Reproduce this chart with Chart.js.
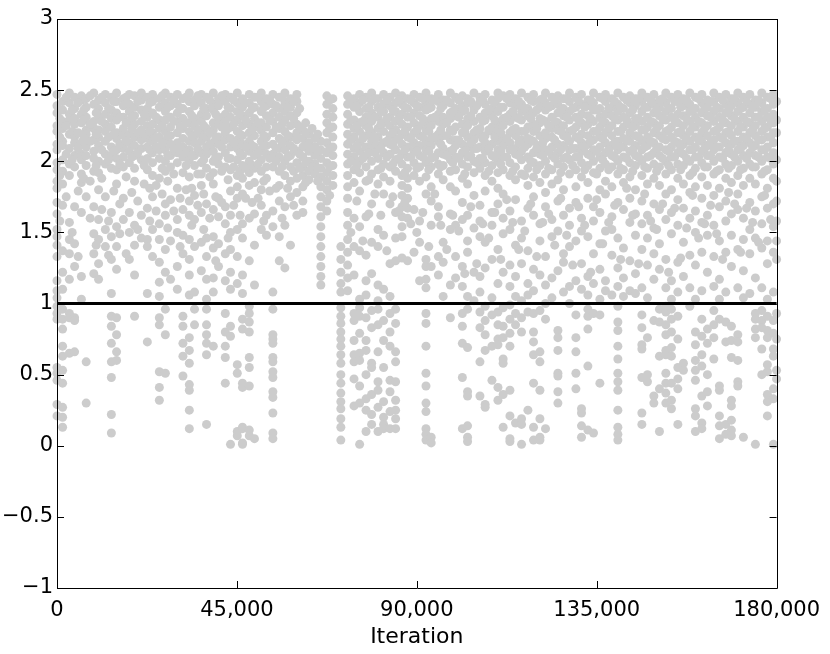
<!DOCTYPE html>
<html>
<head>
<meta charset="utf-8">
<script src="https://cdn.jsdelivr.net/npm/chart.js@4.4.1/dist/chart.umd.min.js"></script>
<style>
  body { margin: 0; background: #fff; }
  canvas { display: block; }
</style>
</head>
<body>
<canvas id="myChart" width="830" height="654"></canvas>
<script>
// tick labels
var xTicks = [0, 45000, 90000, 135000, 180000];
var yTicks = [-1, -0.5, 0, 0.5, 1, 1.5, 2, 2.5, 3];
var threshold = 1;

// iteration of each column of points
var columnIterations = [
  0, 1400, 3100, 4400, 6100, 7300, 9200, 10400, 12100, 13600,
  14900, 16600, 18100, 19400, 21100, 22600, 23900, 25600, 27100, 28400,
  30100, 31500, 33100, 34400, 36100, 37400, 39100, 40400, 42100, 43400,
  45100, 46400, 48100, 49400, 51100, 52400, 54000, 55600, 57000, 58400,
  60000, 61500, 63000, 64500, 66000, 67500, 69000, 71000, 72700, 74300,
  75700, 77300, 78700, 80300, 81700, 83300, 84700, 86300, 87700, 89300,
  90700, 92300, 93600, 95400, 96600, 98400, 99700, 101400, 102700, 104300,
  105800, 107100, 108800, 110300, 111600, 113300, 114700, 116200, 117800, 119200,
  120800, 122200, 123800, 125300, 126700, 128200, 129800, 131200, 132800, 134200,
  135800, 137200, 138800, 140300, 141700, 143300, 144700, 146300, 147700, 149300,
  150700, 152300, 153700, 155300, 156700, 158300, 159700, 161300, 162700, 164300,
  165700, 167300, 168700, 170300, 171700, 173300, 174700, 176300, 177700, 179200,
  180000
];

// values in each column (same order as columnIterations)
var columnRatios = [
  [2.47,2.39,2.34,2.25,2.21,2.12,2.08,1.99,1.94,1.86,1.81,1.71,1.63,1.52,1.47,1.41,1.33,1.16,1.09,1.04,0.98,0.93,0.89,0.55,0.51,0.46,0.29,0.21],
  [2.42,2.36,2.28,2.23,2.14,2.11,2.01,1.93,1.84,1.69,1.37,1.22,1.10,0.96,0.89,0.82,0.70,0.63,0.53,0.44,0.27,0.20,0.13],
  [2.48,2.41,2.33,2.29,2.19,2.09,1.98,1.90,1.57,1.45,1.35,1.17,0.93,0.90,0.65],
  [2.45,2.37,2.30,2.26,2.17,2.13,2.04,1.96,1.68,1.42,1.26,0.90,0.88,0.66],
  [2.46,2.43,2.33,2.27,2.13,2.05,2.01,1.91,1.85,1.64,1.19,1.03],
  [2.44,2.38,2.31,2.22,2.19,2.10,2.04,1.97,1.75,0.59,0.30],
  [2.48,2.40,2.28,2.23,2.15,2.07,2.02,1.93,1.68,1.49,1.35,1.21],
  [2.43,2.37,2.32,2.22,2.17,2.11,2.00,1.92,1.80,1.59,1.45,1.28,1.17],
  [2.47,2.41,2.33,2.26,2.21,2.14,2.05,1.98,1.75,1.52,1.40],
  [2.45,2.36,2.30,2.24,2.10,2.04,1.95,1.64,1.47,1.31,1.07,0.91,0.84,0.72,0.59,0.48,0.22,0.09],
  [2.48,2.42,2.34,2.29,2.20,2.16,2.08,2.02,1.94,1.84,1.54,1.40,1.24,0.90,0.78,0.66,0.60],
  [2.44,2.39,2.31,2.23,2.18,2.09,2.03,1.96,1.74,1.59],
  [2.47,2.40,2.35,2.27,2.19,2.13,2.07,1.99,1.64,1.50,1.31],
  [2.46,2.38,2.32,2.26,2.17,2.11,2.04,1.95,1.86,1.55,1.41,1.20,0.91],
  [2.48,2.43,2.36,2.28,2.22,2.15,2.09,2.01,1.62,1.46],
  [2.45,2.37,2.31,2.25,2.16,2.10,2.02,1.94,1.67,1.45,1.40,1.07,0.73],
  [2.47,2.42,2.34,2.26,2.20,2.14,2.06,1.99,1.90,1.75,1.52,1.33],
  [2.44,2.38,2.29,2.23,2.17,2.08,2.02,1.88,1.56,1.45,1.29,1.15,1.05,0.90,0.85,0.52,0.41,0.32],
  [2.48,2.41,2.35,2.29,2.21,2.14,2.08,2.00,1.93,1.70,1.62,1.38,1.22,0.96,0.78,0.51],
  [2.45,2.39,2.31,2.24,2.18,2.12,2.04,1.96,1.73,1.44,1.17],
  [2.47,2.40,2.34,2.28,2.20,2.13,2.06,1.99,1.81,1.59,1.50,1.26,1.10],
  [2.44,2.37,2.30,2.23,2.16,2.10,2.03,1.92,1.66,1.48,1.35,0.91,0.84,0.72,0.63,0.49],
  [2.48,2.42,2.35,2.27,2.21,2.14,2.08,2.01,1.89,1.72,1.62,1.45,1.31,1.20,1.06,0.76,0.67,0.58,0.43,0.39,0.25,0.12],
  [2.43,2.39,2.30,2.25,2.18,2.13,2.04,1.97,1.76,1.59,1.40,1.08,0.96,0.85],
  [2.47,2.41,2.33,2.28,2.19,2.14,2.06,1.99,1.91,1.83,1.64,1.43,1.23],
  [2.45,2.37,2.32,2.23,2.17,2.10,2.05,1.95,1.70,1.46,1.33,1.17,1.03,0.96,0.85,0.78,0.72,0.64,0.15],
  [2.48,2.40,2.36,2.27,2.22,2.13,2.07,2.00,1.92,1.84,1.66,1.47,1.39,1.18,1.08,0.70],
  [2.44,2.39,2.31,2.26,2.17,2.12,2.03,1.98,1.74,1.61,1.42,1.26],
  [2.47,2.42,2.33,2.28,2.20,2.15,2.06,1.96,1.68,1.56,1.35,1.16,0.93,0.80,0.70,0.62,0.44],
  [2.45,2.37,2.31,2.24,2.16,2.10,2.02,1.94,1.79,1.62,1.50,1.38,1.22,1.10,0.84,0.77,0.01],
  [2.48,2.41,2.35,2.29,2.21,2.15,2.09,2.01,1.90,1.82,1.74,1.52,1.33,1.14,0.57,0.51,0.10,0.07],
  [2.44,2.38,2.32,2.25,2.18,2.12,2.04,1.97,1.88,1.77,1.56,1.46,1.20,1.07,0.89,0.82,0.44,0.41,0.13,0.12,0.02,0.01],
  [2.47,2.41,2.34,2.26,2.20,2.14,2.07,2.00,1.92,1.83,1.60,1.30,0.98,0.93,0.87,0.80,0.62,0.55,0.42,0.11,0.07],
  [2.45,2.38,2.30,2.24,2.18,2.10,2.04,1.95,1.85,1.63,1.41,1.13,0.05],
  [2.48,2.42,2.35,2.27,2.22,2.14,2.08,2.01,1.93,1.80,1.69,1.52],
  [2.44,2.39,2.32,2.24,2.17,2.11,2.05,1.96,1.88,1.62,1.48],
  [2.47,2.40,2.34,2.28,2.20,2.12,2.05,1.96,1.65,1.54,1.08,0.96,0.78,0.75,0.72,0.62,0.59,0.52,0.48,0.38,0.34,0.23,0.09,0.05],
  [2.45,2.37,2.31,2.23,2.16,2.09,2.03,1.93,1.83,1.72,1.47,1.30],
  [2.48,2.41,2.35,2.29,2.21,2.14,2.08,2.00,1.90,1.68,1.55,1.25],
  [2.44,2.38,2.32,2.25,2.17,2.11,2.04,1.96,1.86,1.75,1.41],
  [2.47,2.42,2.34,2.26,2.20,2.15,2.07,1.99,1.88,1.78,1.62],
  [2.22,2.16,2.10,2.03,1.96,1.90,1.82,1.72,1.64],
  [2.19,2.13,2.07,2.00,1.93,1.87],
  [2.16,2.10,2.04,1.98,1.91],
  [2.14,2.08,2.02,1.95,1.89,1.82,1.75,1.68,1.61,1.54,1.47,1.40,1.33,1.26,1.19,1.13],
  [2.46,2.40,2.33,2.27,2.20,2.13,2.06,1.99,1.92,1.86,1.80,1.72,1.65],
  [2.44,2.37,2.31,2.24,2.17,2.10,2.04,1.97,1.90,1.83],
  [1.40,1.31,1.22,1.14,1.08,0.97,0.91,0.86,0.80,0.75,0.70,0.64,0.58,0.50,0.44,0.37,0.31,0.26,0.19,0.13,0.04],
  [2.46,2.40,2.33,2.26,2.19,2.12,2.05,1.98,1.90,1.82,1.74,1.64,1.55,1.45,1.36,1.27,1.18,1.09],
  [2.44,2.38,2.29,2.23,2.17,2.09,2.03,1.94,1.85,1.60,1.40,1.20,0.93,0.88,0.74,0.64,0.59,0.47,0.28],
  [2.47,2.41,2.35,2.27,2.21,2.13,2.07,2.00,1.92,1.79,1.54,1.37,1.03,0.97,0.91,0.79,0.65,0.60,0.42,0.30,0.01],
  [2.45,2.37,2.31,2.25,2.18,2.10,2.04,1.96,1.86,1.61,1.34,1.16,1.06,0.90,0.74,0.67,0.50,0.33,0.25,0.10],
  [2.48,2.42,2.34,2.28,2.20,2.14,2.09,2.00,1.91,1.70,1.43,1.21,0.95,0.83,0.58,0.55,0.36,0.22,0.15],
  [2.44,2.38,2.31,2.23,2.17,2.11,2.02,1.94,1.84,1.52,1.40,1.13,1.02,0.96,0.85,0.66,0.45,0.39,0.27,0.10],
  [2.47,2.40,2.35,2.27,2.21,2.13,2.06,1.98,1.89,1.77,1.48,1.10,0.88,0.74,0.55,0.31,0.20,0.15,0.12],
  [2.45,2.39,2.31,2.25,2.18,2.12,2.05,1.96,1.86,1.70,1.28,1.05,0.93,0.80,0.70,0.46,0.38,0.24,0.12],
  [2.48,2.41,2.35,2.28,2.22,2.15,2.08,2.01,1.93,1.64,1.46,1.30,0.96,0.86,0.66,0.59,0.45,0.32,0.25,0.19,0.12],
  [2.46,2.40,2.33,2.26,2.19,2.12,2.05,1.98,1.90,1.83,1.76,1.68,1.61,1.54,1.47,1.32],
  [2.44,2.37,2.31,2.24,2.17,2.10,2.03,1.95,1.88,1.81,1.74,1.67,1.60,1.30],
  [2.47,2.41,2.34,2.27,2.20,2.13,2.07,1.99,1.90,1.66,1.36],
  [2.45,2.38,2.32,2.25,2.18,2.11,2.04,1.96,1.86,1.58,1.43,1.16],
  [2.48,2.40,2.36,2.27,2.22,2.13,2.08,1.99,1.89,1.77,1.31,1.26,1.17,1.11,0.93,0.86,0.70,0.51,0.42,0.30,0.24,0.12,0.08,0.04],
  [2.44,2.38,2.30,2.25,2.16,2.11,2.02,1.96,1.82,1.72,1.55,1.26,0.06,0.02],
  [2.47,2.42,2.33,2.28,2.19,2.14,2.06,1.98,1.91,1.68,1.61,1.33,1.20],
  [2.43,2.39,2.31,2.26,2.18,2.09,2.05,1.97,1.87,1.43,1.29,1.05],
  [2.48,2.41,2.34,2.30,2.22,2.15,2.07,2.01,1.93,1.82,1.63,1.52,1.13,0.90],
  [2.45,2.37,2.32,2.24,2.15,2.11,2.03,1.94,1.79,1.55,1.33,1.18],
  [2.46,2.39,2.35,2.26,2.20,2.12,2.06,1.98,1.88,1.71,1.59,1.26,1.12,0.93,0.84,0.72,0.48,0.12],
  [2.44,2.41,2.30,2.25,2.17,2.10,2.03,1.96,1.84,1.62,1.44,1.36,1.05,0.96,0.69,0.38,0.35,0.14,0.06,0.03],
  [2.48,2.38,2.36,2.28,2.20,2.15,2.09,2.00,1.92,1.76,1.53,1.22,1.02],
  [2.45,2.42,2.31,2.23,2.19,2.10,2.02,1.95,1.69,1.58,1.47,1.19,1.08,0.94,0.83,0.59,0.35],
  [2.47,2.40,2.34,2.29,2.18,2.13,2.07,1.99,1.90,1.79,1.43,1.25,0.98,0.88,0.78,0.67,0.29,0.27],
  [2.43,2.37,2.32,2.24,2.21,2.12,2.04,1.97,1.86,1.64,1.55,1.31,1.04,0.92,0.70,0.46],
  [2.48,2.44,2.35,2.27,2.22,2.14,2.08,2.00,1.92,1.81,1.70,1.38,1.14,0.94,0.85,0.75,0.71,0.41,0.32],
  [2.46,2.38,2.30,2.25,2.16,2.11,2.03,1.94,1.77,1.60,1.49,1.22,0.97,0.84,0.76,0.61,0.58,0.36,0.13],
  [2.47,2.41,2.33,2.28,2.20,2.13,2.08,1.99,1.90,1.65,1.52,1.27,1.12,0.99,0.89,0.79,0.70,0.39,0.21,0.05,0.03],
  [2.44,2.39,2.31,2.23,2.18,2.09,2.05,1.96,1.87,1.73,1.41,1.19,1.05,0.93,0.85,0.16],
  [2.48,2.40,2.35,2.29,2.21,2.15,2.07,2.01,1.91,1.58,1.46,1.28,1.02,0.90,0.80,0.19,0.15,0.01],
  [2.45,2.37,2.32,2.24,2.16,2.12,2.03,1.95,1.83,1.67,1.37,1.14,1.06,0.94,0.25],
  [2.47,2.42,2.34,2.26,2.21,2.14,2.06,1.99,1.89,1.75,1.62,1.24,1.09,0.93,0.80,0.73,0.64,0.44,0.13,0.04],
  [2.43,2.38,2.30,2.27,2.18,2.11,2.05,1.97,1.85,1.56,1.44,1.20,0.95,0.66,0.59,0.39,0.19,0.06,0.04],
  [2.48,2.41,2.36,2.28,2.20,2.16,2.08,2.00,1.91,1.78,1.68,1.33,1.13,1.00,0.89,0.12],
  [2.45,2.39,2.31,2.23,2.17,2.10,2.04,1.94,1.84,1.59,1.47,1.18,1.04],
  [2.46,2.40,2.34,2.27,2.22,2.12,2.06,1.98,1.87,1.72,1.51,1.23,0.81,0.76,0.67,0.51,0.49,0.38,0.30],
  [2.44,2.37,2.32,2.25,2.18,2.11,2.02,1.96,1.80,1.62,1.35,1.29,1.08],
  [2.48,2.42,2.35,2.29,2.21,2.14,2.08,2.01,1.91,1.67,1.55,1.40,1.12,1.00],
  [2.45,2.38,2.31,2.24,2.17,2.09,2.03,1.94,1.82,1.71,1.44,1.16,0.92,0.76,0.66,0.51,0.40],
  [2.47,2.40,2.33,2.27,2.19,2.13,2.07,1.99,1.89,1.60,1.51,1.28,1.10,0.26,0.23,0.14,0.06],
  [2.43,2.39,2.32,2.26,2.18,2.12,2.05,1.97,1.85,1.74,1.47,1.19,1.06,0.96,0.91,0.82,0.56,0.11],
  [2.48,2.41,2.36,2.28,2.21,2.15,2.08,2.00,1.92,1.68,1.58,1.35,1.14,0.93,0.09],
  [2.45,2.37,2.31,2.24,2.17,2.10,2.03,1.95,1.80,1.64,1.42,1.24,1.03,0.92,0.44],
  [2.47,2.42,2.33,2.27,2.20,2.13,2.06,1.98,1.86,1.77,1.51,1.16,1.09],
  [2.44,2.38,2.32,2.25,2.18,2.11,2.04,1.96,1.82,1.61,1.52,1.34,1.06],
  [2.48,2.40,2.35,2.29,2.21,2.14,2.08,2.00,1.91,1.71,1.46,1.25,1.12,0.98,0.87,0.81,0.70,0.61,0.51,0.45,0.39,0.25,0.13,0.08,0.04],
  [2.45,2.37,2.31,2.24,2.16,2.10,2.03,1.94,1.85,1.66,1.39,1.18,1.05],
  [2.46,2.41,2.34,2.26,2.20,2.14,2.07,1.99,1.89,1.74,1.57,1.30,1.09],
  [2.44,2.39,2.30,2.25,2.18,2.11,2.04,1.97,1.80,1.63,1.48,1.21,1.07],
  [2.48,2.42,2.35,2.28,2.22,2.14,2.08,2.00,1.90,1.72,1.56,1.38,1.11,0.92,0.83,0.71,0.68,0.48,0.23,0.15],
  [2.45,2.38,2.31,2.24,2.17,2.11,2.03,1.95,1.84,1.62,1.46,1.27,1.04,0.76,0.50,0.45],
  [2.47,2.40,2.34,2.27,2.20,2.13,2.06,1.98,1.88,1.70,1.53,1.35,1.17,0.88,0.35,0.30],
  [2.43,2.38,2.32,2.25,2.18,2.10,2.04,1.96,1.83,1.66,1.42,1.24,0.96,0.87,0.63,0.40,0.10],
  [2.48,2.41,2.35,2.29,2.21,2.15,2.08,2.00,1.91,1.77,1.59,1.31,1.11,0.98,0.94,0.85,0.78,0.67,0.64,0.51,0.44,0.37,0.30],
  [2.45,2.37,2.31,2.24,2.17,2.10,2.03,1.94,1.80,1.64,1.49,1.16,1.03,0.96,0.89,0.80,0.69,0.63,0.44,0.32,0.26],
  [2.47,2.42,2.33,2.27,2.20,2.13,2.06,1.98,1.88,1.73,1.55,1.29,1.08,0.91,0.75,0.55,0.47,0.40,0.15],
  [2.44,2.39,2.32,2.25,2.18,2.12,2.05,1.97,1.84,1.67,1.43,1.19,0.58,0.53],
  [2.48,2.40,2.35,2.28,2.21,2.14,2.08,2.00,1.90,1.78,1.60,1.34,1.11,0.98],
  [2.45,2.37,2.31,2.24,2.17,2.10,2.03,1.95,1.82,1.65,1.50,1.27,1.03,0.80,0.71,0.60,0.53,0.46,0.26,0.21,0.10],
  [2.47,2.41,2.34,2.27,2.20,2.14,2.07,1.99,1.89,1.74,1.57,1.36,1.09,0.89,0.77,0.64,0.56,0.35,0.16,0.12],
  [2.43,2.38,2.32,2.25,2.18,2.11,2.04,1.96,1.83,1.62,1.48,1.22,0.82,0.72,0.50,0.38,0.28],
  [2.48,2.42,2.35,2.28,2.21,2.15,2.08,2.00,1.91,1.76,1.55,1.33,1.12,0.95,0.85,0.76,0.61],
  [2.45,2.37,2.31,2.24,2.17,2.10,2.03,1.94,1.81,1.68,1.44,1.17,1.03,0.89,0.42,0.39,0.21,0.14,0.05],
  [2.47,2.40,2.34,2.27,2.20,2.13,2.06,1.98,1.88,1.72,1.58,1.36,1.08,0.87,0.73,0.15,0.08],
  [2.44,2.39,2.32,2.25,2.18,2.12,2.05,1.97,1.85,1.63,1.48,1.26,0.84,0.74,0.62,0.32,0.28,0.18,0.11,0.07],
  [2.48,2.41,2.35,2.28,2.21,2.14,2.08,2.00,1.90,1.77,1.66,1.38,1.11,0.78,0.73,0.60,0.45,0.42],
  [2.45,2.38,2.31,2.24,2.17,2.11,2.04,1.95,1.83,1.60,1.45,1.23,1.04,0.06],
  [2.47,2.40,2.34,2.27,2.20,2.13,2.06,1.98,1.88,1.71,1.52,1.35,1.07],
  [2.43,2.38,2.31,2.25,2.18,2.11,2.04,1.96,1.84,1.65,1.46,1.18,0.93,0.89,0.82,0.76,0.01],
  [2.48,2.41,2.35,2.28,2.21,2.15,2.08,2.00,1.91,1.75,1.56,1.39,1.11,0.95,0.88,0.83,0.68,0.50],
  [2.45,2.37,2.31,2.24,2.17,2.10,2.03,1.94,1.81,1.67,1.44,1.28,1.03,0.91,0.81,0.76,0.57,0.52,0.36,0.31,0.21],
  [2.47,2.40,2.33,2.27,2.20,2.13,2.06,1.98,1.88,1.70,1.54,1.36,1.08,0.88,0.79,0.68,0.63,0.40,0.33,0.01],
  [2.42,2.29,2.20,2.01,1.86,1.72,1.58,1.44,1.31,0.93,0.75,0.53,0.47]
];

// points lying between the columns above, filling the dense band
var extraIterations = [
  700, 2300, 3800, 5300, 6700, 8300, 9800, 11200, 12900, 14200,
  15700, 17300, 18700, 20200, 21800, 23200, 24800, 26300, 27700, 29200,
  30800, 32300, 33700, 35200, 36700, 38200, 39700, 41200, 42800, 44200,
  45800, 47200, 48800, 50300, 51700, 53200, 54800, 56300, 57700, 59200,
  60700, 62200, 63800, 65200, 68200, 73500, 75000, 76500, 78000, 79500,
  81000, 82500, 84000, 85500, 87000, 88500, 90000, 91500, 93000, 94500,
  96000, 97500, 99000, 100500, 102000, 103500, 105000, 106500, 108000, 109500,
  111000, 112500, 114000, 115500, 117000, 118500, 120000, 121500, 123000, 124500,
  126000, 127500, 129000, 130500, 132000, 133500, 135000, 136500, 138000, 139500,
  141000, 142500, 144000, 145500, 147000, 148500, 150000, 151500, 153000, 154500,
  156000, 157500, 159000, 160500, 162000, 163500, 165000, 166500, 168000, 169500,
  171000, 172500, 174000, 175500, 177000, 178500
];

var extraRatios = [
  [2.30,2.17,1.90,1.58], [2.45,2.25,2.05,1.75], [2.36,2.21,2.01,1.50], [2.41,2.20,2.09,1.79,1.33],
  [2.36,2.29,2.16,1.88], [2.46,2.26,2.14,1.86,1.60], [2.34,2.19,1.97,1.41], [2.45,2.28,2.08,1.88,1.66],
  [2.37,2.17,2.01,1.58,1.34], [2.42,2.19,2.07,1.79], [2.31,2.12,1.98,1.70,1.49], [2.45,2.27,2.14,1.89,1.35],
  [2.31,2.23,2.03,1.78], [2.42,2.20,2.06,1.72,1.52], [2.33,2.19,1.97,1.84], [2.41,2.21,2.08,1.81,1.58],
  [2.31,2.16,2.10,1.83,1.65], [2.46,2.25,2.12,1.95,1.77], [2.38,2.18,2.04,1.86,1.53], [2.43,2.28,2.09,1.91,1.65],
  [2.37,2.24,2.09,1.74,1.40], [2.45,2.27,2.06,1.97,1.80], [2.32,2.18,2.04,1.81,1.55], [2.46,2.22,2.09,1.91,1.69],
  [2.37,2.25,2.01,1.77,1.52], [2.43,2.20,2.12,1.89,1.60], [2.33,2.17,2.03,1.75,1.30], [2.46,2.24,2.10,1.93,1.71],
  [2.38,2.23,2.02,1.87,1.46], [2.43,2.26,2.13,1.96,1.69], [2.33,2.19,2.06,1.93,1.62], [2.41,2.29,2.10,1.95,1.74],
  [2.37,2.22,2.11,1.97,1.71], [2.45,2.27,2.06,1.98,1.74], [2.38,2.18,2.11,1.86,1.58], [2.43,2.29,2.02,1.79],
  [2.39,2.24,2.09,2.00,1.81], [2.45,2.26,2.13,1.96,1.60], [2.38,2.18,2.03,1.81], [2.42,2.30,2.09,1.93,1.69],
  [2.37,2.24,2.05,1.95], [2.27,2.20,2.11,1.99,1.85], [2.23,2.09,1.96], [2.19,2.07,1.95,1.86],
  [2.43,2.23,2.09,1.96,1.76], [2.42,2.29,2.15,2.00,1.50], [2.39,2.25,2.11,1.97,1.72], [2.43,2.28,2.16,2.02,1.44],
  [2.38,2.23,2.06,1.87,1.63], [2.44,2.31,2.16,2.06,1.77], [2.35,2.26,2.09,1.95,1.62], [2.43,2.30,2.14,2.03,1.37],
  [2.36,2.20,2.11,1.98,1.75], [2.43,2.30,2.16,2.02,1.65], [2.38,2.21,2.08,1.92,1.71], [2.43,2.31,2.16,2.03,1.56],
  [2.39,2.22,2.07,1.95,1.50], [2.44,2.30,2.17,2.03,1.64], [2.37,2.21,2.07,1.94,1.40], [2.43,2.31,2.17,2.03,1.77],
  [2.37,2.22,2.12,1.96,1.55], [2.43,2.27,2.18,2.04,1.38], [2.35,2.21,2.08,1.99,1.62], [2.43,2.31,2.15,2.02,1.51],
  [2.36,2.21,2.07,1.91,1.21], [2.42,2.32,2.13,2.04,1.68], [2.39,2.22,2.09,1.99,1.28], [2.43,2.28,2.16,2.02,1.56],
  [2.36,2.22,2.09,1.93,1.46], [2.41,2.29,2.17,2.03,1.64], [2.38,2.20,2.07,1.98,1.31], [2.44,2.31,2.16,2.03,1.73],
  [2.35,2.22,2.08,1.93,1.57], [2.42,2.30,2.13,2.04,1.38], [2.37,2.21,2.10,1.90,1.51], [2.43,2.30,2.15,2.00,1.70],
  [2.36,2.23,2.09,1.94,1.33], [2.44,2.29,2.13,2.04,1.57], [2.38,2.25,2.07,1.95,1.63], [2.43,2.28,2.15,2.02,1.41],
  [2.36,2.21,2.08,1.92,1.74], [2.44,2.31,2.17,2.03,1.48], [2.37,2.22,2.09,1.97,1.27], [2.42,2.29,2.16,2.03,1.68],
  [2.38,2.24,2.10,1.94,1.55], [2.43,2.30,2.14,2.04,1.22], [2.36,2.21,2.07,1.91,1.73], [2.44,2.28,2.16,2.01,1.42],
  [2.37,2.23,2.08,1.94,1.57], [2.42,2.30,2.13,2.03,1.69], [2.38,2.21,2.10,1.95,1.31], [2.43,2.29,2.15,2.02,1.81],
  [2.36,2.24,2.08,1.93,1.62], [2.44,2.30,2.17,2.03,1.28], [2.38,2.22,2.10,1.96,1.77], [2.43,2.28,2.14,2.04,1.58],
  [2.36,2.23,2.09,1.93,1.52], [2.44,2.30,2.16,2.02,1.70], [2.37,2.22,2.07,1.97,1.22], [2.42,2.29,2.14,2.03,1.67],
  [2.38,2.21,2.10,1.94,1.32], [2.43,2.30,2.16,2.02,1.53], [2.36,2.24,2.08,1.92,1.76], [2.44,2.28,2.15,2.03,1.46],
  [2.37,2.23,2.09,1.96,1.56], [2.42,2.31,2.13,2.04,1.69], [2.38,2.22,2.10,1.93,1.49], [2.43,2.29,2.16,2.02,1.31],
  [2.36,2.21,2.08,1.95,1.78], [2.44,2.30,2.14,2.03,1.70], [2.37,2.24,2.09,1.94,1.36], [2.42,2.28,2.16,2.02,1.67],
  [2.38,2.22,2.10,1.96,1.57], [2.43,2.31,2.15,2.03,1.43], [2.36,2.23,2.08,1.93,1.76], [2.44,2.29,2.17,2.02,1.59]
];

var points = [];
function addColumns(iters, ratios) {
  iters.forEach(function(it, i) {
    ratios[i].forEach(function(r) {
      points.push({ x: it, y: r });
    });
  });
}
addColumns(columnIterations, columnRatios);
addColumns(extraIterations, extraRatios);

var fontFamily = '"DejaVu Sans", sans-serif';

// box round the plot with inward tick marks, like the original figure
var boxPlugin = {
  id: 'box',
  afterDatasetsDraw: function(chart) {
    var ctx = chart.ctx;
    var a = chart.chartArea;
    var xs = chart.scales.x;
    var ys = chart.scales.y;
    var len = 7;
    ctx.save();
    ctx.strokeStyle = '#000';
    ctx.lineWidth = 1;
    ctx.beginPath();
    ctx.rect(Math.round(a.left) + 0.5, Math.round(a.top) + 0.5,
             Math.round(a.right - a.left), Math.round(a.bottom - a.top));
    xTicks.forEach(function(v) {
      var px = Math.round(xs.getPixelForValue(v)) + 0.5;
      ctx.moveTo(px, a.bottom); ctx.lineTo(px, a.bottom - len);
      ctx.moveTo(px, a.top); ctx.lineTo(px, a.top + len);
    });
    yTicks.forEach(function(v) {
      var py = Math.round(ys.getPixelForValue(v)) + 0.5;
      ctx.moveTo(a.left, py); ctx.lineTo(a.left + len, py);
      ctx.moveTo(a.right, py); ctx.lineTo(a.right - len, py);
    });
    ctx.stroke();
    ctx.restore();
  }
};

var ctx = document.getElementById('myChart').getContext('2d');
var myChart = new Chart(ctx, {
  type: 'scatter',
  data: {
    datasets: [{
      // threshold line drawn on top of the points
      data: [{ x: 0, y: threshold }, { x: 180000, y: threshold }],
      showLine: true,
      borderColor: '#000',
      borderWidth: 3,
      pointRadius: 0,
      clip: false
    }, {
      data: points,
      pointRadius: 4.5,
      pointBackgroundColor: '#cccccc',
      pointBorderWidth: 0,
      clip: false
    }]
  },
  options: {
    responsive: false,
    animation: false,
    events: [],
    layout: { padding: { top: 19, right: 53, left: 0, bottom: 0 } },
    plugins: { legend: { display: false }, tooltip: { enabled: false } },
    scales: {
      x: {
        type: 'linear',
        min: 0,
        max: 180000,
        grid: { display: false, drawTicks: false },
        border: { display: false },
        afterBuildTicks: function(scale) {
          scale.ticks = xTicks.map(function(v) { return { value: v }; });
        },
        ticks: {
          color: '#000',
          padding: 10,
          maxRotation: 0,
          font: { family: fontFamily, size: 21 },
          callback: function(v) { return v.toLocaleString('en-US'); }
        },
        title: {
          display: true,
          text: 'Iteration',
          color: '#000',
          padding: { top: 0 },
          font: { family: fontFamily, size: 22 }
        },
        afterFit: function(scale) { scale.height = 66; }
      },
      y: {
        min: -1,
        max: 3,
        grid: { display: false, drawTicks: false },
        border: { display: false },
        afterBuildTicks: function(scale) {
          scale.ticks = yTicks.map(function(v) { return { value: v }; });
        },
        ticks: {
          color: '#000',
          padding: 4,
          font: { family: fontFamily, size: 21 },
          callback: function(v) { return String(v).replace('-', '\u2212'); }
        },
        afterFit: function(scale) { scale.width = 57; }
      }
    }
  },
  plugins: [boxPlugin]
});
</script>
</body>
</html>
